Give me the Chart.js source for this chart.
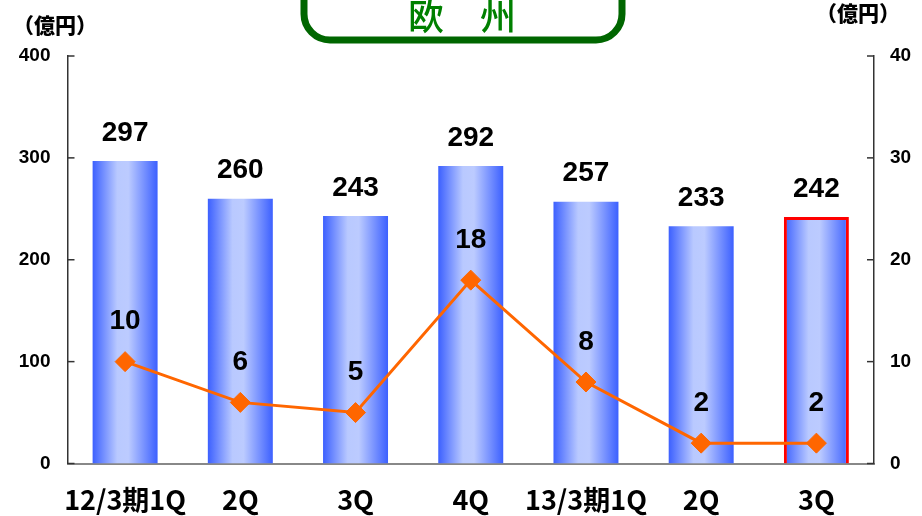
<!DOCTYPE html>
<html>
<head>
<meta charset="utf-8">
<script src="https://cdn.jsdelivr.net/npm/chart.js@4/dist/chart.umd.min.js"></script>
<style>
  html, body { margin: 0; padding: 0; background: #fff; }
  #wrap { width: 922px; height: 516px; position: relative; }
</style>
</head>
<body>
<div id="wrap"><canvas id="c" width="922" height="516"></canvas></div>
<script>
const categories = ['12/3期1Q', '2Q', '3Q', '4Q', '13/3期1Q', '2Q', '3Q'];
const salesValues = [297, 260, 243, 292, 257, 233, 242];
const profitValues = [10, 6, 5, 18, 8, 2, 2];
const leftTicks = [0, 100, 200, 300, 400];
const rightTicks = [0, 10, 20, 30, 40];
const titleText = '欧　州';
const unitText = '（億円）';

const BAR_PCT = 0.564;

function barGradient(context) {
  const chart = context.chart;
  const xs = chart.scales.x;
  if (!xs || !chart.chartArea) return '#6a86ff';
  const cx = xs.getPixelForValue(context.dataIndex);
  const half = (xs.width / categories.length) * BAR_PCT / 2;
  const g = chart.ctx.createLinearGradient(cx - half, 0, cx + half, 0);
  g.addColorStop(0, '#3c60ff');
  g.addColorStop(0.38, '#b9c9ff');
  g.addColorStop(0.55, '#bccbff');
  g.addColorStop(1, '#3c60ff');
  return g;
}

const decorPlugin = {
  id: 'decor',
  afterDraw(chart) {
    const ctx = chart.ctx;
    ctx.save();
    // inward tick marks
    const ys = chart.scales.y, yr = chart.scales.y1;
    ctx.strokeStyle = '#333';
    ctx.lineWidth = 1.5;
    leftTicks.forEach(v => {
      const y = ys.getPixelForValue(v);
      ctx.beginPath(); ctx.moveTo(ys.right, y); ctx.lineTo(ys.right + 7, y); ctx.stroke();
    });
    rightTicks.forEach(v => {
      const y = yr.getPixelForValue(v);
      ctx.beginPath(); ctx.moveTo(yr.left, y); ctx.lineTo(yr.left - 7, y); ctx.stroke();
    });
    // title box
    ctx.strokeStyle = '#006600';
    ctx.lineWidth = 7;
    ctx.beginPath();
    ctx.roundRect(304, -40, 318, 80, 26);
    ctx.stroke();
    ctx.fillStyle = '#008000';
    ctx.font = '500 36px "Noto Sans CJK JP"';
    ctx.textAlign = 'center';
    ctx.textBaseline = 'alphabetic';
    ctx.fillText(titleText, 462, 30);
    // unit labels
    ctx.fillStyle = '#000';
    ctx.font = '900 21px "Noto Sans CJK JP"';
    ctx.textBaseline = 'middle';
    ctx.fillText(unitText, 55, 25);
    ctx.fillText(unitText, 858, 13);
    ctx.restore();
  },
  afterDatasetsDraw(chart) {
    const ctx = chart.ctx;
    ctx.save();
    ctx.fillStyle = '#000';
    ctx.font = 'bold 28px "Liberation Sans", Arial, sans-serif';
    ctx.textAlign = 'center';
    ctx.textBaseline = 'middle';
    const barMeta = chart.getDatasetMeta(0);
    barMeta.data.forEach((el, i) => {
      ctx.fillText(String(salesValues[i]), el.x, el.y - 28);
    });
    const lineMeta = chart.getDatasetMeta(1);
    lineMeta.data.forEach((el, i) => {
      ctx.fillText(String(profitValues[i]), el.x, el.y - 40);
    });
    ctx.restore();
  }
};

new Chart(document.getElementById('c'), {
  type: 'bar',
  data: {
    labels: categories,
    datasets: [
      {
        type: 'bar',
        label: '売上',
        data: salesValues,
        yAxisID: 'y',
        order: 2,
        backgroundColor: barGradient,
        borderColor: salesValues.map((v, i) => i === salesValues.length - 1 ? '#ff0000' : 'rgba(0,0,0,0)'),
        borderWidth: salesValues.map((v, i) => i === salesValues.length - 1 ? 3 : 0),
        barPercentage: BAR_PCT,
        categoryPercentage: 1.0
      },
      {
        type: 'line',
        label: '利益',
        data: profitValues,
        yAxisID: 'y1',
        order: 1,
        borderColor: '#ff6600',
        borderWidth: 3,
        backgroundColor: '#ff6600',
        pointStyle: 'rectRot',
        pointRadius: 10,
        pointBorderWidth: 1,
        pointBorderColor: '#ff6600',
        pointBackgroundColor: '#ff6600',
        tension: 0,
        fill: false
      }
    ]
  },
  options: {
    responsive: false,
    animation: false,
    devicePixelRatio: 1,
    layout: { padding: { top: 56, left: 0, right: 0, bottom: 0 } },
    plugins: { legend: { display: false }, tooltip: { enabled: false }, title: { display: false } },
    scales: {
      x: {
        offset: true,
        grid: { display: false, drawTicks: false },
        border: { display: true, color: '#888', width: 2 },
        ticks: {
          color: '#000',
          padding: 20,
          maxRotation: 0,
          autoSkip: false,
          font: { family: '"Noto Sans CJK JP"', weight: 'bold', size: 27 }
        },
        afterFit(s) { s.height = 52.5; }
      },
      y: {
        position: 'left',
        min: 0, max: 400,
        afterBuildTicks(s) { s.ticks = leftTicks.map(v => ({ value: v })); },
        grid: { display: false, drawTicks: false },
        border: { display: true, color: '#333', width: 1.5 },
        ticks: {
          color: '#000', padding: 17,
          font: { family: '"Liberation Sans", Arial, sans-serif', weight: 'bold', size: 19 }
        },
        afterFit(s) { s.width = 67.5; }
      },
      y1: {
        position: 'right',
        min: 0, max: 40,
        afterBuildTicks(s) { s.ticks = rightTicks.map(v => ({ value: v })); },
        grid: { display: false, drawTicks: false },
        border: { display: true, color: '#333', width: 1.5 },
        ticks: {
          color: '#000', padding: 16,
          font: { family: '"Liberation Sans", Arial, sans-serif', weight: 'bold', size: 19 }
        },
        afterFit(s) { s.width = 48; }
      }
    }
  },
  plugins: [decorPlugin]
});
</script>
</body>
</html>
